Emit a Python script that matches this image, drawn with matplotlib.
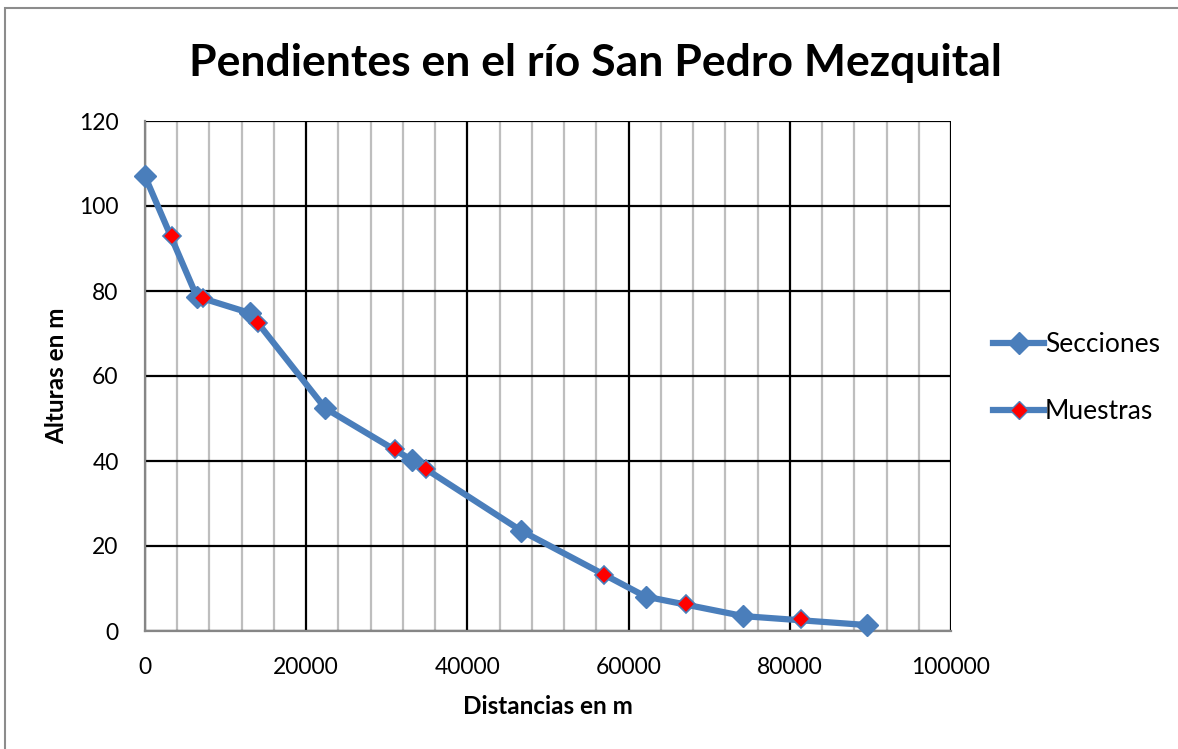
import matplotlib
matplotlib.use("Agg")
import matplotlib.pyplot as plt
from matplotlib.patches import Rectangle
from matplotlib.lines import Line2D

secciones_x = [0, 6420, 13040, 22360, 33130, 46670, 62110, 74250, 89570]
secciones_y = [107.0, 78.7, 74.8, 52.4, 40.2, 23.6, 8.1, 3.5, 1.4]
muestras_x = [3310, 7160, 14000, 30980, 34870, 56940, 67080, 81450]
muestras_y = [92.9, 78.3, 72.5, 42.8, 38.1, 13.2, 6.4, 2.8]
x_ticks = [0, 20000, 40000, 60000, 80000, 100000]
y_ticks = [0, 20, 40, 60, 80, 100, 120]

blue = "#4A7EBB"
plt.rcParams['font.family'] = ['Lato', 'DejaVu Sans']

W, H = 1178, 749
fig = plt.figure(figsize=(W / 100, H / 100), dpi=100)
ax = fig.add_axes([145 / W, 1 - 631 / H, (951 - 145) / W, (631 - 121) / H])

# outer chart border
fig.patches.append(Rectangle((5 / W, -0.1), 1.2, 1 - 8 / H + 0.1, transform=fig.transFigure,
                             fill=False, edgecolor="#8c8c8c", linewidth=1.5))

ax.set_xlim(0, 100000)
ax.set_ylim(0, 120)
ax.set_xticks(x_ticks)
ax.set_yticks(y_ticks)
ax.set_xticks(range(0, 100001, 4000), minor=True)
ax.tick_params(axis='both', which='both', length=0, labelsize=16.5)
ax.tick_params(axis='y', pad=19)
ax.tick_params(axis='x', pad=19)
ax.set_xticklabels([str(v) for v in x_ticks])
ax.set_yticklabels([str(v) for v in y_ticks])

ax.grid(True, which='minor', axis='x', color='#BEBEBE', linewidth=1.6)
ax.grid(True, which='major', axis='both', color='black', linewidth=1.6)
ax.set_axisbelow(True)
for s in ['top', 'right']:
    ax.spines[s].set_visible(False)
ax.spines['left'].set_color('#868686')
ax.spines['bottom'].set_color('#868686')
ax.spines['left'].set_linewidth(1.6)
ax.spines['bottom'].set_linewidth(1.6)

ax.plot(secciones_x, secciones_y, color=blue, linewidth=4.5, marker='D', markersize=11,
        markerfacecolor=blue, markeredgecolor=blue, clip_on=False, zorder=3, label='Secciones')
ax.plot(muestras_x, muestras_y, linestyle='none', marker='D', markersize=9,
        markerfacecolor='red', markeredgecolor=blue, markeredgewidth=1.2, clip_on=False,
        zorder=4, label='Muestras')

ax.set_xlabel("Distancias en m", fontsize=17.5, fontweight='bold', labelpad=12)
ax.set_ylabel("Alturas en m", fontsize=17.5, fontweight='bold', labelpad=8)
fig.text(595 / W, 1 - 63 / H, "Pendientes en el río San Pedro Mezquital", ha='center', va='center',
         fontsize=32, fontweight='bold')

handles = [
    Line2D([], [], color=blue, linewidth=4.5, marker='D', markersize=11, markerfacecolor=blue, markeredgecolor=blue),
    Line2D([], [], color=blue, linewidth=4.5, marker='D', markersize=9, markerfacecolor='red', markeredgecolor=blue),
]
fig.legend(handles, ['Secciones', 'Muestras'], loc='center left', bbox_to_anchor=(975 / W, 1 - 378 / H),
           frameon=False, fontsize=19, handlelength=1.9, handletextpad=0.05, labelspacing=1.6,
           borderpad=0.2)

fig.savefig("out.png", dpi=100)
